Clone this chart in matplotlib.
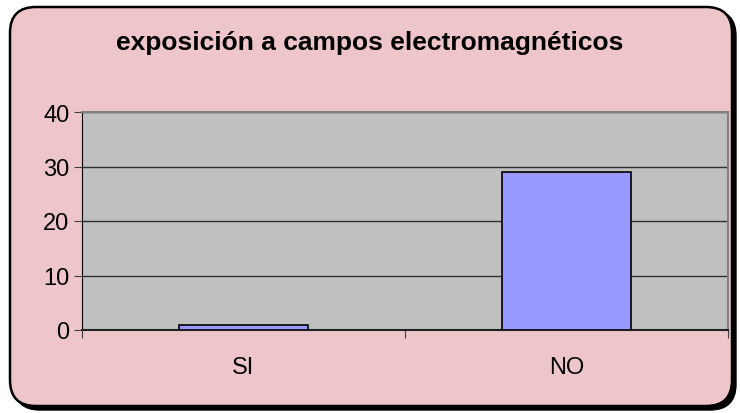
import matplotlib.pyplot as plt
from matplotlib.patches import FancyBboxPatch
import numpy as np

categories = ['SI', 'NO']
values = [1, 29]
title = 'exposición a campos electromagnéticos'


def main():
	plt.rcParams['font.family'] = ['Liberation Sans', 'DejaVu Sans']
	fig = plt.figure(figsize=(7.4, 4.14), dpi=100)
	fig.patch.set_facecolor('white')

	# shadow + rounded frame, kept behind the axes
	shadow = FancyBboxPatch((14 / 740, 3 / 414), 722 / 740, 400 / 414,
		boxstyle='round,pad=0,rounding_size=0.035', transform=fig.transFigure,
		facecolor='black', edgecolor='black', zorder=-2, mutation_aspect=740 / 414)
	fig.patches.append(shadow)
	frame = FancyBboxPatch((10 / 740, 7 / 414), 722 / 740, 399 / 414,
		boxstyle='round,pad=0,rounding_size=0.035', transform=fig.transFigure,
		facecolor='#EEC6CA', edgecolor='black', linewidth=1.8, zorder=-1,
		mutation_aspect=740 / 414)
	fig.patches.append(frame)

	ax = fig.add_axes([82 / 740, 83 / 414, 646 / 740, 218 / 414])
	ax.set_facecolor('#C0C0C0')
	x = np.arange(len(categories))
	ax.bar(x, values, width=0.4, color='#9999FF', edgecolor='black', linewidth=1.2, zorder=3)
	ax.set_xlim(-0.5, len(categories) - 0.5)
	ax.set_ylim(0, 40)
	ax.set_yticks(np.arange(0, 41, 10))
	ax.yaxis.grid(True, color='#303030', linewidth=1.0, zorder=1)
	ax.set_axisbelow(True)

	ax.set_xticks(np.arange(-0.5, len(categories), 1.0))
	ax.set_xticklabels([])
	ax.set_xticks(x, minor=True)
	ax.set_xticklabels(categories, minor=True)
	ax.tick_params(axis='x', which='major', direction='out', length=6, color='#404040')
	ax.tick_params(axis='x', which='minor', length=0, labelsize=17, pad=19)
	ax.tick_params(axis='y', direction='out', length=6, color='#404040', labelsize=17, pad=3)

	for s in ['top', 'right']:
		ax.spines[s].set_color('#808080')
		ax.spines[s].set_linewidth(1.5)
	ax.spines['left'].set_color('black')
	ax.spines['bottom'].set_color('#202020')
	ax.spines['bottom'].set_linewidth(1.5)

	fig.text(0.5, 1 - 43 / 414, title, ha='center', va='center',
		fontsize=19, fontweight='bold')

	fig.savefig('out.png', dpi=100)


if __name__ == '__main__':
	main()
